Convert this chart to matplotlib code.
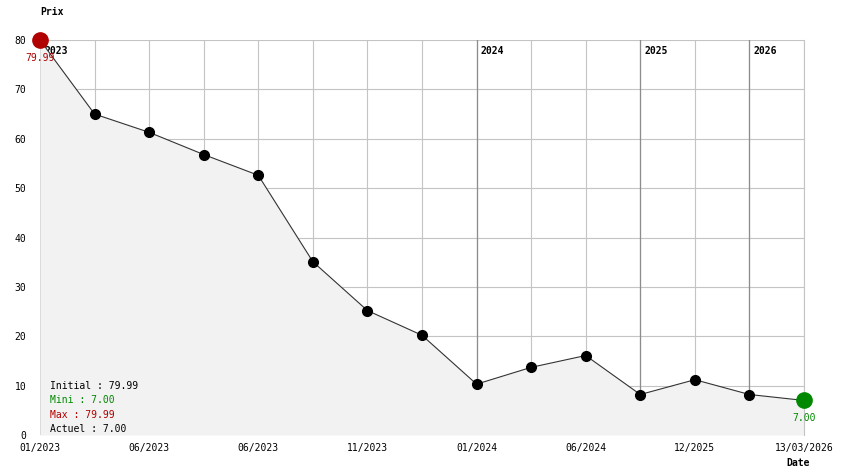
import matplotlib
matplotlib.use("Agg")
import matplotlib.pyplot as plt

# price history, one point per grid column
prices = [79.99, 65.0, 61.3, 56.8, 52.6, 35.1, 25.2, 20.2, 10.3, 13.7, 16.1, 8.2, 11.2, 8.2, 7.00]
tick_labels = ["01/2023", "", "06/2023", "", "06/2023", "", "11/2023", "",
               "01/2024", "", "06/2024", "", "12/2025", "", "13/03/2026"]
year_labels = ["2023", "2024", "2025", "2026"]
year_idx = [0, 8, 11, 13]
y_ticks = [0, 10, 20, 30, 40, 50, 60, 70, 80]

MONO = "DejaVu Sans Mono"
FS = 7
RED = "#b00000"
GREEN = "#008800"

fig = plt.figure(figsize=(8.44, 4.74), dpi=100)
W, H = 844, 474
ax = fig.add_axes([40 / W, 1 - 435 / H, 764 / W, 395 / H])

x = list(range(len(prices)))
ax.set_xlim(0, len(prices) - 1)
ax.set_ylim(0, 80)

ax.set_xticks(x)
ax.set_xticklabels(tick_labels, fontfamily=MONO, fontsize=FS)
ax.set_yticks(y_ticks)
ax.set_yticklabels([str(v) for v in y_ticks], fontfamily=MONO, fontsize=FS)
ax.tick_params(length=0, pad=6)
ax.tick_params(axis="y", pad=10)
ax.grid(True, color="#c4c4c4", lw=0.8, zorder=0)
ax.set_axisbelow(True)
for s in ["left", "bottom", "top"]:
    ax.spines[s].set_visible(False)
ax.spines["right"].set_color("#c4c4c4")
ax.spines["right"].set_linewidth(0.8)

for i in year_idx[1:]:
    ax.axvline(i, color="#8c8c8c", lw=0.9, zorder=1)
for lab, i in zip(year_labels, year_idx):
    ax.annotate(lab, (i, 80), xytext=(3, -4), textcoords="offset points",
                ha="left", va="top", fontfamily=MONO, fontsize=FS,
                fontweight="bold", zorder=2)

ax.fill_between(x, prices, 0, color="#f2f2f2", zorder=2, lw=0)
ax.plot(x, prices, color="#333333", lw=0.8, zorder=3)
ax.plot(x[1:-1], prices[1:-1], "o", color="black", ms=7, zorder=4)

imax = prices.index(max(prices))
imin = len(prices) - 1
ax.plot(x[imax], prices[imax], "o", color=RED, ms=11, zorder=5, clip_on=False)
ax.plot(x[imin], prices[imin], "o", color=GREEN, ms=11, zorder=5, clip_on=False)
ax.annotate(f"{prices[imax]:.2f}", (x[imax], prices[imax]), xytext=(0, -9),
            textcoords="offset points", ha="center", va="top",
            color=RED, fontfamily=MONO, fontsize=FS, zorder=6)
ax.annotate(f"{prices[imin]:.2f}", (x[imin], prices[imin]), xytext=(0, -9),
            textcoords="offset points", ha="center", va="top",
            color=GREEN, fontfamily=MONO, fontsize=FS, zorder=6)

summary = [
    (f"Initial : {prices[0]:.2f}", "black"),
    (f"Mini : {min(prices):.2f}", GREEN),
    (f"Max : {max(prices):.2f}", RED),
    (f"Actuel : {prices[-1]:.2f}", "black"),
]
for k, (txt, col) in enumerate(summary):
    fig.text(50 / W, 1 - (386 + k * 14.3) / H, txt, color=col,
             fontfamily=MONO, fontsize=FS, va="center", ha="left")

fig.text(40 / W, 1 - 12 / H, "Prix", fontfamily=MONO, fontsize=FS,
         fontweight="bold", va="center", ha="left")
fig.text(798 / W, 1 - 463 / H, "Date", fontfamily=MONO, fontsize=FS,
         fontweight="bold", va="center", ha="center")

fig.savefig("out.png", dpi=100)
